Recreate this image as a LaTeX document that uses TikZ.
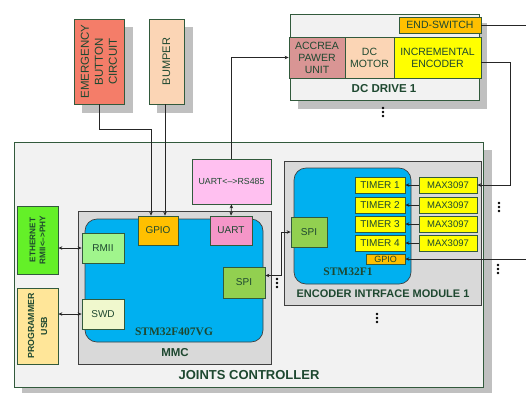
\documentclass[tikz,border=0pt]{standalone}
\usepackage{fontspec}
\setmainfont{Liberation Sans}
\newfontfamily\serifbold{Liberation Serif}[BoldFont={* Bold}]
\usetikzlibrary{arrows.meta,calc}
\definecolor{tgreen}{RGB}{30,72,48}
\definecolor{bgreen}{RGB}{50,90,60}
\definecolor{lightbg}{RGB}{242,242,242}
\definecolor{shadowgray}{RGB}{192,192,192}
\definecolor{mmcgray}{RGB}{217,217,217}
\definecolor{chipblue}{RGB}{0,176,240}
\definecolor{gpioorange}{RGB}{255,192,0}
\definecolor{uartpink}{RGB}{245,150,200}
\definecolor{rspink}{RGB}{255,192,240}
\definecolor{rmiigreen}{RGB}{160,245,140}
\definecolor{swdyellow}{RGB}{240,248,205}
\definecolor{spigreen}{RGB}{146,208,80}
\definecolor{ethgreen}{RGB}{100,240,40}
\definecolor{progyellow}{RGB}{255,230,153}
\definecolor{emerred}{RGB}{244,125,105}
\definecolor{peach}{RGB}{251,213,181}
\definecolor{accreapink}{RGB}{217,149,148}
\definecolor{encyellow}{RGB}{255,255,0}
\newcommand\fsz[2]{\fontsize{#1}{#2}\selectfont}
\begin{document}
\begin{tikzpicture}[x=1pt,y=-1pt,
  box/.style={draw=bgreen, line width=0.7pt, inner sep=0pt, text=tgreen, align=center},
  graybox/.style={draw=black!75, line width=0.7pt, inner sep=0pt},
  lbl/.style={text=tgreen, inner sep=0pt, align=center},
  shadowbox/.style={fill=shadowgray, draw=none},
  conn/.style={draw=black!85, line width=0.8pt},
  arr/.style={conn, -{Stealth[length=4pt,width=3.5pt]}},
  darr/.style={conn, {Stealth[length=4pt,width=3.5pt]}-{Stealth[length=4pt,width=3.5pt]}},
  vdots/.style={fill=black}
]
\useasboundingbox (0,0) rectangle (526,392);
\fill[white] (0,0) rectangle (526,392);

% shadows
\fill[shadowbox] (82,27) rectangle (133,113);
\fill[shadowbox] (157,27) rectangle (193,113);
\fill[shadowbox] (298,23) rectangle (487,109);
\fill[shadowbox] (22,150) rectangle (492,395);

% top boxes
\node[box, fill=emerred, minimum width=50, minimum height=85] (emerg) at (99,61.5) {};
\node[lbl, rotate=90, font=\fsz{11.5}{14}] (emerglbl) at (emerg) {EMERGENCY\\BUTTON\\CIRCUIT};
\node[box, fill=peach, minimum width=35, minimum height=85] (bumper) at (166.5,61.5) {};
\node[lbl, rotate=90, font=\fsz{11}{13}] (bumperlbl) at (bumper) {BUMPER};

% DC drive
\node[box, fill=lightbg, minimum width=189, minimum height=86] (dcdrive) at (384.5,57) {};
\node[lbl, font=\bfseries\fsz{11.5}{13}] (dclbl) at (384,89) {DC DRIVE 1};
\node[box, fill=gpioorange, minimum width=82, minimum height=16, font=\fsz{10.5}{12}] (endsw) at (440,25) {END-SWITCH};
\node[box, fill=accreapink, minimum width=56, minimum height=41, font=\fsz{10.5}{12}] (accrea) at (317,57.5) {ACCREA\\PAWER\\UNIT};
\node[box, fill=peach, minimum width=49, minimum height=41, font=\fsz{10.5}{12}] (dcmotor) at (369.5,57.5) {DC\\MOTOR};
\node[box, fill=encyellow, minimum width=87, minimum height=41, font=\fsz{10.5}{12}] (enc) at (437.5,57.5) {INCREMENTAL\\ENCODER};

% joints controller
\node[box, fill=lightbg, minimum width=469, minimum height=245] (joints) at (248.5,264.5) {};
\node[lbl, font=\bfseries\fsz{13}{15}] (jointslbl) at (249,375) {JOINTS CONTROLLER};

\node[box, fill=rspink, minimum width=79, minimum height=45, font=\fsz{8.8}{10}] (rs485) at (231.5,181.5) {UART<-->RS485};

% MMC
\node[graybox, fill=mmcgray, minimum width=193, minimum height=153] (mmc) at (174.5,287.5) {};
\node[graybox, fill=chipblue, rounded corners=12pt, minimum width=178, minimum height=123] (mmcblue) at (174,280.5) {};
\node[lbl, font=\bfseries\fsz{11.5}{13}] (mmclbl) at (175,353) {MMC};
\node[lbl, font=\serifbold\bfseries\fsz{11.5}{13}] (stm4) at (174,332) {STM32F407VG};
\node[box, fill=gpioorange, minimum width=40, minimum height=29, font=\fsz{10}{12}] (gpio) at (158,230.5) {GPIO};
\node[box, fill=uartpink, minimum width=42, minimum height=29, font=\fsz{10}{12}] (uart) at (231,230.5) {UART};
\node[box, fill=rmiigreen, minimum width=42, minimum height=30, font=\fsz{10}{12}] (rmii) at (103,248) {RMII};
\node[box, fill=swdyellow, minimum width=42, minimum height=30, font=\fsz{10}{12}] (swd) at (103,314) {SWD};
\node[box, fill=spigreen, minimum width=42, minimum height=31, font=\fsz{10}{12}] (spim) at (244,282.5) {SPI};

% left boxes
\node[box, fill=ethgreen, minimum width=41, minimum height=68] (eth) at (37.5,240) {};
\node[lbl, rotate=90, font=\bfseries\fsz{8.2}{10}] (ethlbl) at (eth) {ETHERNET\\RMII<-->PHY};
\node[box, fill=progyellow, minimum width=41, minimum height=76] (prog) at (37.5,326) {};
\node[lbl, rotate=90, font=\bfseries\fsz{8.8}{13}] (proglbl) at (prog) {PROGRAMMER\\USB};

% encoder interface module
\node[graybox, fill=mmcgray, minimum width=197, minimum height=144] (encmod) at (382.5,233) {};
\node[graybox, fill=chipblue, rounded corners=12pt, minimum width=117, minimum height=116] (encblue) at (352.5,226) {};
\node[lbl, font=\bfseries\fsz{11}{13}] (encmodlbl) at (383,294) {ENCODER INTRFACE MODULE 1};
\node[lbl, font=\serifbold\bfseries\fsz{11.5}{13}] (stm1) at (348,272) {STM32F1};
\node[box, fill=spigreen, minimum width=36, minimum height=30, font=\fsz{10}{12}] (spie) at (309,232) {SPI};
\foreach \i/\y in {1/185,2/205,3/224,4/243}{
  \node[box, fill=encyellow, minimum width=50, minimum height=16, font=\fsz{10}{12}] (timer\i) at (380,\y) {TIMER \i};
  \node[box, fill=encyellow, minimum width=58, minimum height=16, font=\fsz{9.5}{12}] (max\i) at (448,\y) {MAX3097};
  \draw[arr] (max\i.west) -- (timer\i.east);
}
\node[box, fill=gpioorange, minimum width=39, minimum height=10, font=\fsz{9}{10}] (gpioe) at (385.5,259) {GPIO};

% connectors
\draw[arr] (emerg.south) -- ++(0,25) -| ([xshift=-7pt]gpio.north);
\draw[arr] ([xshift=7pt]gpio.north |- bumper.south) -- ([xshift=7pt]gpio.north);
\draw[arr] (rs485.north) |- (accrea.west);
\draw[darr] (rs485.south) -- (uart.north);
\draw[darr] (rmii.west -| eth.east) -- (rmii.west);
\draw[darr] (swd.west -| prog.east) -- (swd.west);
\draw[darr] ([yshift=7pt]spim.east) -- ++(16,0) |- (spie.west);
\coordinate (endswout) at (526,25);
\draw[conn] (endsw.east) -- (endswout);
\draw[arr] ([yshift=-4.5pt]enc.east) -- ++(29,0) |- (max1.east);
\coordinate (gpioin) at (526,259);
\draw[arr] (gpioin) -- (gpioe.east);

% continuation dots
\foreach \x/\y in {383/108, 277/279, 499/203, 498/265, 377/314}{
  \foreach \d in {0,4,8}{
    \fill[vdots] (\x,\y+\d) circle[radius=1.3pt];
  }
}
\end{tikzpicture}
\end{document}
